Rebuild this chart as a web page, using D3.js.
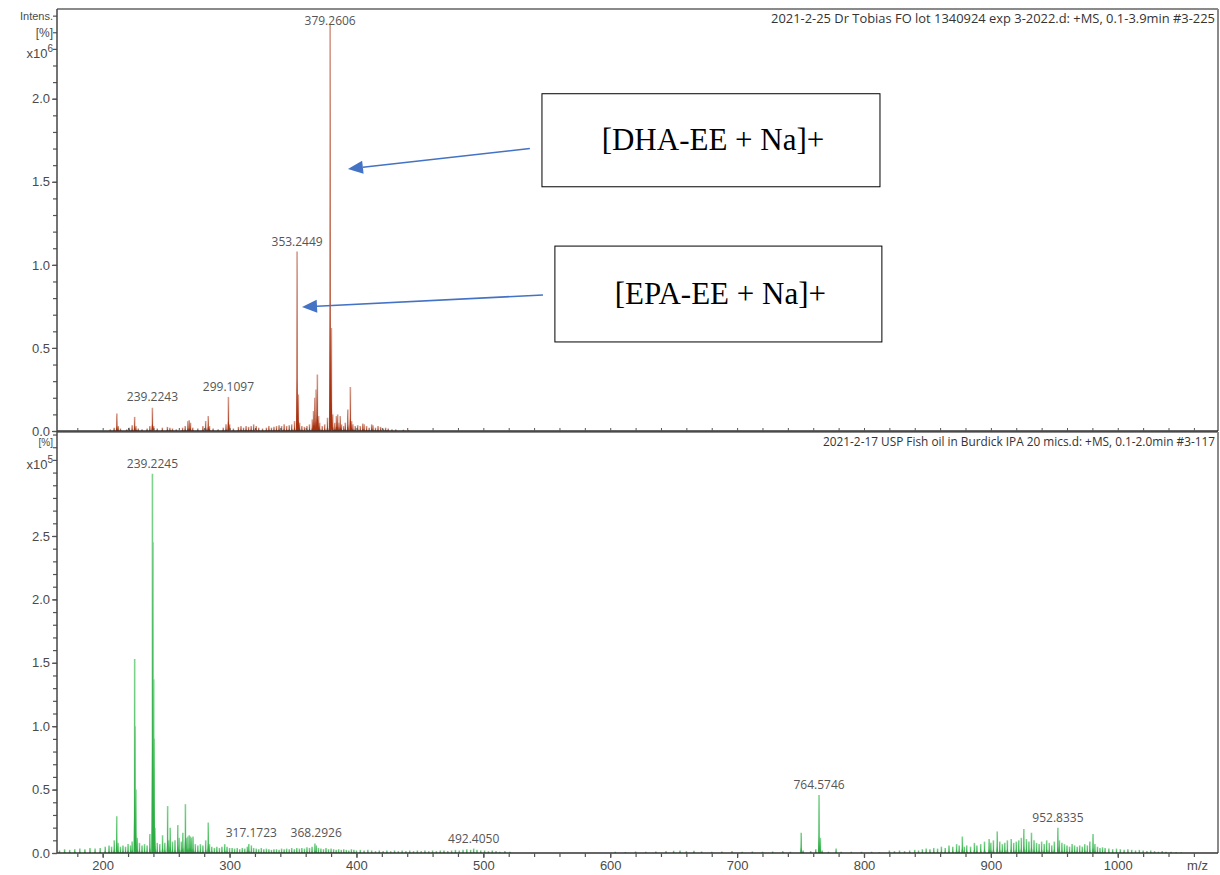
<!DOCTYPE html>
<html>
<head>
<meta charset="utf-8">
<script src="https://cdn.jsdelivr.net/npm/d3@7"></script>
<style>
  html, body { margin: 0; padding: 0; background: #fff; }
  svg { display: block; }
</style>
</head>
<body>
<svg id="chart" width="1220" height="875"></svg>
<script>
// ---------------- DATA ----------------
const topTitle = "2021-2-25  Dr Tobias FO lot 1340924 exp 3-2022.d: +MS, 0.1-3.9min #3-225";
const bottomTitle = "2021-2-17 USP Fish oil in Burdick IPA 20 mics.d: +MS, 0.1-2.0min #3-117";

const xTicks = [200, 300, 400, 500, 600, 700, 800, 900, 1000];
const topYTicks = [0.0, 0.5, 1.0, 1.5, 2.0];
const bottomYTicks = [0.0, 0.5, 1.0, 1.5, 2.0, 2.5];

// top spectrum (m/z, intensity x10^6)
const topMz = [206,209,211.2,212.2,214,219,221,223.2,225.2,226.2,228,231,235,237.2,239.2,240.2,243,247,251,253,255,258,263,265,267.2,268.2,269.2,271,275,279,281.2,283.2,284.2,287,291,295,297.2,299.1,300.1,303,307,309,311,313,315,317,319,321,323,326,329,331,333,335,337,339,341,343,345,347,349,351.2,353.2,354.2,355.2,357,359,361,363,365.2,366.2,367.2,368.2,369.2,370.2,371,373,375,377.2,379.26,380.26,381.3,383,384.2,385.2,386.2,387.2,388.2,390,391.2,393.2,395.2,396.2,397.2,399,401,403,405,406,408,410,412,413,415,417,419,421,423,425,428,431,437,441];
const topInt = [0.01,0.02,0.105,0.03,0.015,0.01,0.02,0.035,0.085,0.03,0.015,0.01,0.015,0.03,0.14,0.03,0.015,0.02,0.025,0.02,0.015,0.01,0.02,0.03,0.06,0.065,0.05,0.02,0.015,0.03,0.06,0.09,0.03,0.015,0.01,0.02,0.04,0.205,0.04,0.015,0.025,0.03,0.02,0.03,0.025,0.03,0.04,0.03,0.02,0.015,0.02,0.03,0.02,0.025,0.03,0.035,0.03,0.04,0.03,0.035,0.04,0.06,1.08,0.22,0.05,0.03,0.025,0.03,0.04,0.07,0.12,0.2,0.25,0.34,0.09,0.05,0.03,0.04,0.08,2.45,0.62,0.1,0.05,0.09,0.1,0.05,0.09,0.04,0.03,0.05,0.13,0.265,0.06,0.04,0.03,0.035,0.03,0.045,0.04,0.03,0.02,0.04,0.035,0.02,0.03,0.025,0.015,0.02,0.015,0.01,0.01,0.008,0.005];
const topLabels = [
  {mz: 239.2243, text: "239.2243"},
  {mz: 299.1097, text: "299.1097"},
  {mz: 353.2449, text: "353.2449"},
  {mz: 379.2606, text: "379.2606"}
];
const topLabelInt = [0.145, 0.205, 1.08, 2.41];

// bottom spectrum (m/z, intensity x10^5)
const botMz = [166,170,174,178,182,186,190,194,198,202,205,207,209.1,211.1,212.1,214,216,218,220,222,223.2,225.2,225.5,226.2,227.2,229,231,233,235,237.2,239.22,239.6,240.22,240.6,241.2,243,245,247.2,249,251.2,252.2,253.2,255,257,259.2,260.2,262,263.2,265.2,266.2,267.2,268.2,269.2,270.2,271.2,273,275,277,279,281.2,283.2,284.2,286,288,290,292,294,296.2,298,300,302,304,306,308,310,312,314,315.2,317.17,319,321,323,325,327,329,331,333,335,337,339,341,343,345,347,349,351,353,355,357,359,361,363,365,367.3,368.3,370,372,374,376,378,380,382,384,386,388,390,392,394,396,398,400,403,406,409,412,415,418,421,424,427,430,433,436,439,442,445,448,451,454,457,460,463,466,469,472,475,478,481,484,487,490,492.4,495,498,501,504,507,510,513,517,521,604,612,620,628,636,644,650,655,660,666,672,680,688,696,704,712,720,728,736,742,750.5,752,758,762,764.57,765.6,767,772,778,782,790,798,806,812,820,824,828,832,836,840,843,846,849,852,855,858,861,864,867,870,873,875,877.5,879,881,884,887,889,892,895,898.6,900,902,905,907,909,911,913,916,918,920,922,924,926,928,930,932,934,936,938,940,942,944,946,948,950,952.83,954,956,958,960,962,964,966,968,970,972,974,976,978,980.5,982,984,986,988,990,993,996,999,1002,1005,1008,1011,1014,1017,1020,1023,1026,1029,1032,1035,1038,1042,1046,1050];
const botInt = [0.02,0.03,0.025,0.03,0.035,0.03,0.04,0.035,0.04,0.05,0.06,0.05,0.1,0.29,0.08,0.05,0.06,0.05,0.07,0.06,0.09,1.53,1.0,0.5,0.12,0.08,0.06,0.07,0.06,0.15,2.99,2.45,1.37,0.9,0.2,0.08,0.07,0.14,0.08,0.37,0.1,0.2,0.09,0.1,0.22,0.12,0.09,0.16,0.385,0.12,0.13,0.14,0.13,0.12,0.13,0.07,0.06,0.07,0.06,0.1,0.24,0.07,0.05,0.04,0.05,0.04,0.05,0.07,0.05,0.04,0.04,0.035,0.04,0.03,0.04,0.035,0.05,0.07,0.06,0.04,0.035,0.03,0.04,0.03,0.035,0.03,0.025,0.03,0.03,0.025,0.035,0.03,0.035,0.03,0.04,0.03,0.04,0.035,0.04,0.035,0.045,0.04,0.05,0.075,0.06,0.04,0.035,0.03,0.04,0.03,0.035,0.03,0.025,0.03,0.025,0.03,0.025,0.02,0.03,0.025,0.02,0.025,0.02,0.025,0.02,0.015,0.02,0.015,0.02,0.015,0.02,0.015,0.02,0.015,0.02,0.015,0.02,0.015,0.02,0.015,0.02,0.015,0.02,0.02,0.015,0.02,0.025,0.02,0.025,0.03,0.025,0.035,0.025,0.02,0.02,0.015,0.02,0.015,0.01,0.015,0.01,0.01,0.008,0.012,0.01,0.012,0.015,0.018,0.02,0.015,0.018,0.012,0.01,0.012,0.015,0.01,0.012,0.01,0.012,0.015,0.01,0.16,0.02,0.015,0.03,0.457,0.12,0.02,0.01,0.035,0.01,0.01,0.01,0.01,0.005,0.02,0.015,0.02,0.015,0.02,0.025,0.02,0.03,0.035,0.03,0.04,0.035,0.05,0.04,0.06,0.05,0.07,0.06,0.13,0.05,0.06,0.05,0.08,0.06,0.07,0.09,0.11,0.08,0.1,0.17,0.09,0.07,0.08,0.1,0.11,0.08,0.09,0.1,0.12,0.19,0.11,0.09,0.16,0.1,0.08,0.07,0.09,0.07,0.1,0.08,0.06,0.09,0.2,0.1,0.08,0.07,0.06,0.05,0.07,0.06,0.05,0.06,0.05,0.07,0.06,0.09,0.15,0.07,0.05,0.04,0.045,0.04,0.035,0.03,0.035,0.03,0.025,0.03,0.025,0.02,0.025,0.02,0.015,0.02,0.015,0.01,0.015,0.01,0.01,0.008,0.005];
const botLabels = [
  {mz: 239.2245, text: "239.2245"},
  {mz: 317.1723, text: "317.1723"},
  {mz: 368.2926, text: "368.2926"},
  {mz: 492.4050, text: "492.4050"},
  {mz: 764.5746, text: "764.5746"},
  {mz: 952.8335, text: "952.8335"}
];
const botLabelInt = [2.99, 0.075, 0.075, 0.035, 0.457, 0.2];

// annotation boxes (data coords of top panel: m/z, intensity x10^6)
const annTexts = ["[DHA-EE + Na]+", "[EPA-EE + Na]+"];
const annBoxMz = [[546.2, 812.6], [556.4, 814.1]];
const annBoxInt = [[2.03, 1.47], [1.113, 0.536]];
const arrowFrom = [[536.7, 1.70], [547.0, 0.819]];
const arrowTo = [[393.3, 1.577], [357.1, 0.746]];

// ---------------- LAYOUT ----------------
const L = 57, R = 1218;
const topT = 9, topB = 431;
const botT = 432, botB = 853;

const svg = d3.select("#chart");
const x = d3.scaleLinear().domain([164, 1079]).range([L, R]);
const yTop = d3.scaleLinear().domain([0, 2.54]).range([topB, topT]);
const yBot = d3.scaleLinear().domain([0, 3.32]).range([botB, botT]);

const axisColor = "#555";
const textColor = "#4a4a4a";
const sans = "'Liberation Sans', Arial, sans-serif";

// frames
function frame(t, b) {
  svg.append("line").attr("x1", L).attr("x2", R).attr("y1", t).attr("y2", t)
    .attr("stroke", "#8a8a8a").attr("stroke-width", 2);
  svg.append("line").attr("x1", R).attr("x2", R).attr("y1", t).attr("y2", b)
    .attr("stroke", "#8a8a8a").attr("stroke-width", 2);
}
frame(topT, topB);
frame(botT, botB);

// spectra
function drawSpectrum(mzs, ints, y, dark, light) {
  const g = svg.append("g");
  const data = mzs.map((m, i) => ({mz: m, v: ints[i]}));
  g.selectAll("line.stick").data(data).enter().append("line")
    .attr("x1", d => x(d.mz)).attr("x2", d => x(d.mz))
    .attr("y1", y(0)).attr("y2", d => y(d.v))
    .attr("stroke", light).attr("stroke-width", 1.6);
  g.selectAll("path.prof").data(data).enter().append("path")
    .attr("d", d => {
      const p = d3.path();
      p.moveTo(x(d.mz - 0.9), y(0));
      p.lineTo(x(d.mz - 0.3), y(d.v * 0.3));
      p.lineTo(x(d.mz), y(d.v * 0.97));
      p.lineTo(x(d.mz + 0.3), y(d.v * 0.3));
      p.lineTo(x(d.mz + 0.9), y(0));
      p.closePath();
      return p.toString();
    })
    .attr("fill", dark).attr("stroke", "none");
}
drawSpectrum(topMz, topInt, yTop, "#a8320f", "#d49a8a");
drawSpectrum(botMz, botInt, yBot, "#2eae45", "#7fd38f");

// baselines
svg.append("line").attr("x1", L).attr("x2", R).attr("y1", topB).attr("y2", topB)
  .attr("stroke", "#333").attr("stroke-width", 1.5);
svg.append("line").attr("x1", L).attr("x2", R).attr("y1", botB).attr("y2", botB)
  .attr("stroke", "#333").attr("stroke-width", 1.5);

// y axes
function yAxis(y, ticks, maxV) {
  const minor = d3.range(0, maxV + 1e-9, 0.1);
  const g = svg.append("g").attr("transform", `translate(${L},0)`);
  const ax = d3.axisLeft(y).tickValues(ticks).tickFormat(d3.format(".1f")).tickSize(5).tickPadding(2);
  g.call(ax);
  g.select(".domain").remove();
  g.selectAll(".tick line").attr("stroke", axisColor).attr("stroke-width", 1.2);
  g.selectAll(".tick text").attr("fill", textColor).style("font-family", sans).style("font-size", "13px");
  const gm = svg.append("g").attr("transform", `translate(${L},0)`);
  gm.call(d3.axisLeft(y).tickValues(minor).tickFormat("").tickSize(4));
  gm.select(".domain").remove();
  gm.selectAll(".tick line").attr("stroke", axisColor).attr("stroke-width", 1.2);
}
yAxis(yTop, topYTicks, 2.5);
yAxis(yBot, bottomYTicks, 3.3);

svg.append("line").attr("x1", L).attr("x2", L).attr("y1", topT).attr("y2", botB)
  .attr("stroke", "#444").attr("stroke-width", 1.5);

// unit labels
function unitLabels(y, vIntens, vPct, vExp, exp, showIntens, pctSize) {
  const g = svg.append("g").style("font-family", sans).attr("fill", textColor).attr("text-anchor", "end");
  if (showIntens) g.append("text").attr("x", L - 4).attr("y", y(vIntens) + 4).style("font-size", "11px").text("Intens.");
  g.append("text").attr("x", L - 4).attr("y", y(vPct) + 5).style("font-size", pctSize).text("[%]");
  const t = g.append("text").attr("x", L - 4).attr("y", y(vExp) + 9).style("font-size", "13px");
  t.append("tspan").text("x10");
  t.append("tspan").attr("dy", -6).style("font-size", "10px").text(exp);
}
unitLabels(yTop, 2.5, 2.4, 2.3, "6", true, "12px");
unitLabels(yBot, 3.4, 3.25, 3.1, "5", false, "10px");

// x axis
const minorX = d3.range(180, 1079, 20);
const gx = svg.append("g").attr("transform", `translate(0,${botB})`);
gx.call(d3.axisBottom(x).tickValues(xTicks).tickFormat(d3.format("d")).tickSize(5).tickPadding(3));
gx.select(".domain").remove();
gx.selectAll(".tick line").attr("stroke", axisColor).attr("stroke-width", 1.2);
gx.selectAll(".tick text").attr("fill", textColor).style("font-family", sans).style("font-size", "13px");
const gxm = svg.append("g").attr("transform", `translate(0,${botB})`);
gxm.call(d3.axisBottom(x).tickValues(minorX).tickFormat("").tickSize(4));
gxm.select(".domain").remove();
gxm.selectAll(".tick line").attr("stroke", axisColor).attr("stroke-width", 1.2);
// upward ticks on top panel baseline
const gxt = svg.append("g").attr("transform", `translate(0,${topB})`);
gxt.call(d3.axisTop(x).tickValues(minorX).tickFormat("").tickSize(3));
gxt.select(".domain").remove();
gxt.selectAll(".tick line").attr("stroke", axisColor).attr("stroke-width", 1);

svg.append("text").attr("x", 1208).attr("y", botB + 17).attr("text-anchor", "end")
  .attr("fill", textColor).style("font-family", sans).style("font-size", "13px").text("m/z");

// titles
svg.append("text").attr("x", 1215).attr("y", 23).attr("text-anchor", "end")
  .attr("fill", "#333").style("font-family", "'Open Sans', sans-serif").style("font-size", "12px")
  .attr("textLength", 444).attr("lengthAdjust", "spacingAndGlyphs")
  .text(topTitle);
svg.append("text").attr("x", 1215).attr("y", 446).attr("text-anchor", "end")
  .attr("fill", "#333").style("font-family", "'Open Sans', sans-serif").style("font-size", "12px")
  .attr("textLength", 392).attr("lengthAdjust", "spacingAndGlyphs")
  .text(bottomTitle);

// peak labels
function peakLabels(labels, ints, y) {
  svg.append("g").selectAll("text").data(labels).enter().append("text")
    .attr("x", d => x(d.mz)).attr("y", (d, i) => y(ints[i]) - 6)
    .attr("text-anchor", "middle").attr("fill", "#555")
    .style("font-family", "'Open Sans', sans-serif").style("font-size", "12px")
    .text(d => d.text);
}
peakLabels(topLabels, topLabelInt, yTop);
peakLabels(botLabels, botLabelInt, yBot);

// annotations
const blue = "#4472c4";
annTexts.forEach((t, i) => {
  const x0 = x(annBoxMz[i][0]), x1 = x(annBoxMz[i][1]);
  const y0 = yTop(annBoxInt[i][0]), y1 = yTop(annBoxInt[i][1]);
  svg.append("rect").attr("x", x0).attr("y", y0).attr("width", x1 - x0).attr("height", y1 - y0)
    .attr("fill", "#fff").attr("stroke", "#000").attr("stroke-width", 1);
  svg.append("text").attr("x", (x0 + x1) / 2 + 2).attr("y", (y0 + y1) / 2 + 10)
    .attr("text-anchor", "middle").attr("fill", "#000")
    .style("font-family", "'Liberation Serif', 'Times New Roman', serif").style("font-size", "31px")
    .text(t);
  const ax0 = x(arrowFrom[i][0]), ay0 = yTop(arrowFrom[i][1]);
  const ax1 = x(arrowTo[i][0]), ay1 = yTop(arrowTo[i][1]);
  const ang = Math.atan2(ay1 - ay0, ax1 - ax0);
  const hl = 15, hw = 6.5;
  const bx = ax1 - hl * Math.cos(ang), by = ay1 - hl * Math.sin(ang);
  svg.append("line").attr("x1", ax0).attr("y1", ay0).attr("x2", bx).attr("y2", by)
    .attr("stroke", blue).attr("stroke-width", 1.6);
  const px = -Math.sin(ang), py = Math.cos(ang);
  svg.append("path")
    .attr("d", `M${ax1},${ay1}L${bx + px * hw},${by + py * hw}L${bx - px * hw},${by - py * hw}Z`)
    .attr("fill", blue);
});
</script>
</body>
</html>
